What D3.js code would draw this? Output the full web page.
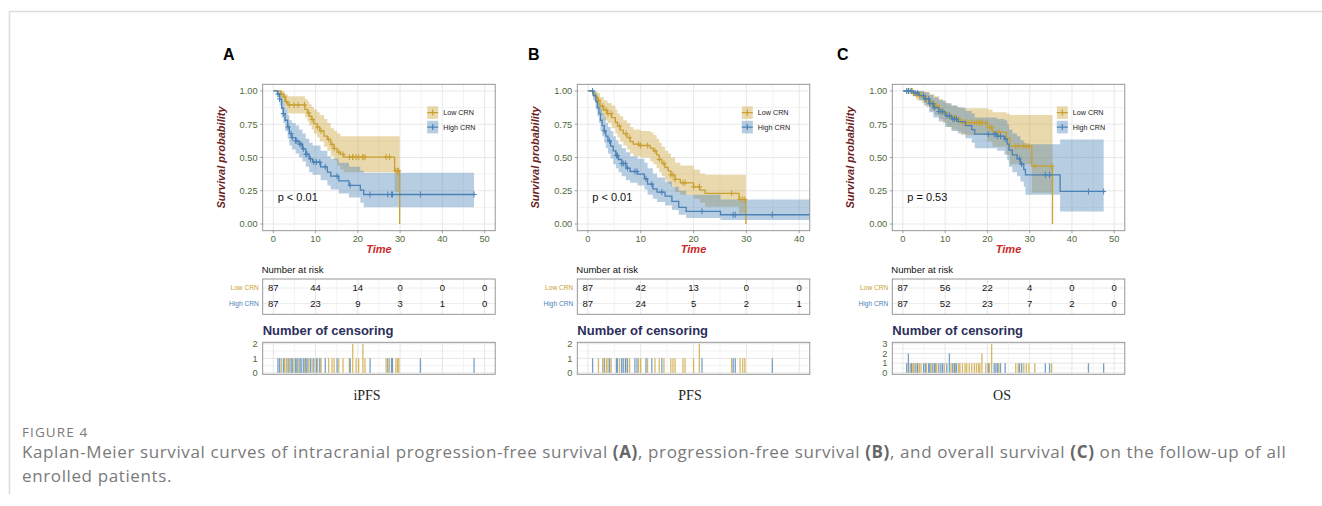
<!DOCTYPE html>
<html>
<head>
<meta charset="utf-8">
<script src="https://cdn.jsdelivr.net/npm/d3@7"></script>
<style>
body { margin: 0; background: #fff; }
svg { display: block; }
</style>
</head>
<body>
<svg id="fig" width="1322" height="506"></svg>
<script>
// values (Kaplan-Meier, CRN groups)
var groups = ["Low CRN", "High CRN"];
var panelLetters = ["A", "B", "C"];
var panelTitles = ["iPFS", "PFS", "OS"];
var pLabels = ["p < 0.01", "p < 0.01", "p = 0.53"];
var yTicks = [0, 0.25, 0.5, 0.75, 1];
var xTicksAC = [0, 10, 20, 30, 40, 50];
var xTicksB = [0, 10, 20, 30, 40];

// steps: [time, survival, lower CI, upper CI]
var aLowSteps = [[0,1,1,1],[1.8,0.977,0.95,1],[2.35,0.954,0.91,0.995],[2.8,0.92,0.87,0.975],[3.45,0.895,0.83,0.96],
  [7.5,0.862,0.8,0.94],[8.1,0.835,0.77,0.92],[8.5,0.81,0.74,0.9],[9.1,0.786,0.71,0.88],[9.6,0.755,0.68,0.86],
  [10.4,0.729,0.65,0.84],[11,0.7,0.62,0.82],[12,0.66,0.58,0.79],[12.8,0.636,0.55,0.76],[13.6,0.598,0.51,0.72],
  [14.4,0.568,0.48,0.7],[15.1,0.54,0.44,0.68],[15.9,0.523,0.41,0.66],[16.7,0.503,0.39,0.66],[28.7,0.4,0.24,0.66],
  [29.9,0,null,null]];
var aLowCens = [1.9,2.7,3.1,3.8,4.9,5.9,7.4,8.4,9.2,10.5,11.3,13.1,13.9,14.4,15.5,16.5,18.0,18.8,18.8,19.6,20.2,
  21.2,21.2,21.7,26.7,27.5,29.0,29.4,29.7];
var aHighSteps = [[0,1,1,1],[1,0.977,0.95,1],[1.5,0.94,0.89,0.99],[2,0.87,0.8,0.94],[2.4,0.83,0.76,0.91],
  [2.8,0.78,0.7,0.87],[3.4,0.73,0.64,0.82],[3.8,0.68,0.59,0.78],[4.4,0.65,0.56,0.76],[5.3,0.625,0.53,0.74],
  [6.1,0.6,0.5,0.71],[6.9,0.565,0.47,0.68],[7.7,0.525,0.43,0.64],[8.5,0.49,0.39,0.61],[9.3,0.465,0.37,0.59],
  [11.2,0.43,0.33,0.55],[12.8,0.39,0.29,0.51],[13.6,0.36,0.26,0.49],[15.5,0.325,0.23,0.46],[17.9,0.29,0.2,0.43],
  [20.6,0.255,0.16,0.4],[21.4,0.222,0.127,0.385]];
var aHighCens = [1.1,1.5,2.4,3.5,4.2,4.5,5.3,5.6,6.3,6.6,7.1,7.7,8.0,8.8,9.6,10.2,11.0,12.3,15.1,18.2,22.9,
  27.1,28.0,28.2,34.8,47.5];
var aRisk = [[87,44,14,0,0,0],[87,23,9,3,1,0]];

var bLowSteps = [[0,1,1,1],[1,0.977,0.95,1],[1.4,0.955,0.91,1],[1.8,0.93,0.88,0.985],[2.3,0.885,0.82,0.955],
  [3,0.855,0.78,0.93],[3.7,0.83,0.76,0.91],[4.5,0.8,0.72,0.89],[5.2,0.765,0.68,0.86],[5.6,0.735,0.65,0.83],
  [6.1,0.705,0.62,0.81],[6.7,0.68,0.59,0.78],[7.4,0.65,0.56,0.76],[8,0.62,0.53,0.73],[8.6,0.6,0.51,0.71],
  [10,0.59,0.5,0.7],[11.8,0.57,0.47,0.69],[12.4,0.55,0.45,0.67],[13,0.52,0.42,0.64],[13.5,0.485,0.39,0.61],
  [14,0.455,0.36,0.58],[14.6,0.425,0.33,0.55],[15.2,0.4,0.3,0.53],[15.7,0.37,0.28,0.5],[16.5,0.335,0.24,0.46],
  [17.5,0.31,0.22,0.44],[20,0.28,0.19,0.41],[21.2,0.255,0.16,0.38],[22.2,0.23,0.13,0.37],[28.6,0.185,0.08,0.37],
  [29.9,0,null,null]];
var bLowCens = [2.0,2.8,3.5,3.8,4.4,6.0,7.2,7.9,9.6,10.0,11.3,12.7,13.5,14.4,15.7,16.1,16.5,18.0,18.4,20.0,
  21.1,21.1,27.2,28.8,29.3,29.7];
var bHighSteps = [[0,1,1,1],[1,0.965,0.93,1],[1.5,0.92,0.86,0.98],[1.8,0.875,0.81,0.95],[2.1,0.83,0.76,0.91],
  [2.4,0.78,0.7,0.87],[2.7,0.74,0.66,0.83],[3.1,0.7,0.61,0.8],[3.4,0.66,0.57,0.76],[3.8,0.625,0.53,0.73],
  [4.3,0.585,0.49,0.7],[4.8,0.55,0.45,0.66],[5.3,0.515,0.42,0.63],[5.8,0.485,0.39,0.6],[6.4,0.455,0.36,0.57],
  [7.2,0.42,0.33,0.54],[8,0.395,0.31,0.51],[9.4,0.375,0.29,0.49],[10.7,0.34,0.26,0.46],[11.3,0.3,0.22,0.42],
  [12.3,0.265,0.19,0.38],[13.1,0.24,0.165,0.35],[14.6,0.21,0.14,0.32],[15.9,0.17,0.105,0.28],
  [17.2,0.125,0.07,0.25],[18.6,0.095,0.045,0.22],[25.1,0.07,0.03,0.185]];
var bHighCens = [0.9,3.1,4.1,5.4,5.6,6.4,6.7,7.1,7.5,8.9,9.3,11.0,12.1,14.0,21.6,27.5,27.9,34.9,47.0];
var bRisk = [[87,42,13,0,0],[87,24,5,2,1]];

var cLowSteps = [[0,1,1,1],[2.3,0.985,0.96,1],[3.3,0.97,0.93,1],[4.5,0.953,0.91,0.995],[5.5,0.935,0.88,0.99],
  [6.5,0.91,0.85,0.975],[7.5,0.887,0.82,0.96],[8.6,0.862,0.79,0.94],[9.5,0.837,0.76,0.92],[10.4,0.81,0.73,0.9],
  [11.5,0.798,0.71,0.89],[12.7,0.785,0.7,0.88],[13.8,0.762,0.67,0.87],[20,0.725,0.62,0.86],[21.2,0.69,0.58,0.84],
  [24.5,0.645,0.52,0.83],[25.3,0.585,0.45,0.82],[30.5,0.435,0.235,0.82],[35.4,0,null,null]];
var cLowCens = [1.7,2.2,2.5,3.3,3.9,4.3,5.6,6.7,7.7,8.0,9.8,11.4,12.4,13.2,13.5,14.1,14.7,15.1,15.7,16.3,16.9,
  17.4,17.9,18.2,18.7,18.7,19.6,20.5,21.0,21.0,21.0,22.7,26.7,27.3,28.6,29.2,29.8,31.2,35.2];
var cHighSteps = [[0,1,1,1],[2.5,0.985,0.96,1],[3.8,0.965,0.93,1],[5,0.94,0.89,0.99],[6.2,0.905,0.84,0.97],
  [7.2,0.875,0.8,0.95],[8.5,0.845,0.77,0.93],[10,0.815,0.73,0.91],[11.5,0.79,0.7,0.89],[13,0.77,0.68,0.875],
  [14.8,0.74,0.645,0.85],[16.3,0.71,0.61,0.83],[17,0.675,0.57,0.8],[22.3,0.66,0.55,0.79],[24,0.64,0.52,0.78],
  [24.7,0.6,0.48,0.75],[25.1,0.555,0.43,0.71],[25.9,0.52,0.39,0.68],[27,0.49,0.36,0.66],[27.8,0.45,0.32,0.63],
  [28.6,0.41,0.28,0.61],[29,0.37,0.22,0.6],[37.2,0.245,0.095,0.635]];
var cHighCens = [0.9,1.3,1.3,2.0,2.9,3.5,4.9,5.3,6.1,6.4,7.1,7.5,8.5,9.0,9.4,10.4,11.0,11.0,11.8,12.2,12.7,
  20.2,21.6,22.0,22.4,23.1,24.2,27.6,28.1,33.7,34.7,43.9,47.5];
var cRisk = [[87,56,22,4,0,0],[87,52,23,7,2,0]];

// ---- layout / style ----
var colors = ["#c9a031", "#4a82b6"];
var green = "#4f6a3b";
var sans = "'Liberation Sans', Arial, sans-serif";

var panels = [
  {left: 262.7, letterX: 223, titleX: 367, domain: [-2.5, 52.5], ticks: xTicksAC, censMax: 2,
   steps: [aLowSteps, aHighSteps], cens: [aLowCens, aHighCens], risk: aRisk},
  {left: 577.3, letterX: 528, titleX: 690, domain: [-2, 42], ticks: xTicksB, censMax: 2,
   steps: [bLowSteps, bHighSteps], cens: [bLowCens, bHighCens], risk: bRisk},
  {left: 892.3, letterX: 837, titleX: 1002, domain: [-2.5, 52.5], ticks: xTicksAC, censMax: 3,
   steps: [cLowSteps, cHighSteps], cens: [cLowCens, cHighCens], risk: cRisk}
];
var plotW = 232.5, plotTop = 84.3, plotBot = 230.7;
var riskTop = 279, riskBot = 314.3;
var censTop = 342.3, censBot = 374.3;

var svg = d3.select("#fig");
svg.append("rect").attr("width", 1322).attr("height", 506).attr("fill", "#fff");
// frame of the journal figure box
svg.append("line").attr("x1", 9).attr("x2", 1322).attr("y1", 11.5).attr("y2", 11.5)
  .attr("stroke", "#dcdcdc").attr("stroke-width", 1.5);
svg.append("line").attr("x1", 9.5).attr("x2", 9.5).attr("y1", 11).attr("y2", 494)
  .attr("stroke", "#dcdcdc").attr("stroke-width", 1.5);

var defs = svg.append("defs");

function stepAt(steps, t) {
  var i = d3.bisector(function(d) { return d[0]; }).right(steps, t) - 1;
  return steps[Math.max(0, i)][1];
}

panels.forEach(function(p, pi) {
  var L = p.left;
  var x = d3.scaleLinear().domain(p.domain).range([L, L + plotW]);
  var y = d3.scaleLinear().domain([-0.05, 1.05]).range([plotBot, plotTop]);
  var minor = d3.range(0, p.ticks[p.ticks.length - 1] + 10, 5)
    .filter(function(v) { return x(v) <= L + plotW; });

  var g = svg.append("g");
  g.append("text").attr("x", p.letterX).attr("y", 60).text(panelLetters[pi])
    .attr("font-family", sans).attr("font-weight", "bold").attr("font-size", 16);

  // ---------- survival plot ----------
  g.append("rect").attr("x", L).attr("y", plotTop).attr("width", plotW).attr("height", plotBot - plotTop)
    .attr("fill", "#fff");
  var yMinor = d3.range(0, 1.001, 0.125);
  g.selectAll(".gy").data(yMinor).enter().append("line")
    .attr("x1", L).attr("x2", L + plotW).attr("y1", function(d) { return y(d); }).attr("y2", function(d) { return y(d); })
    .attr("stroke", function(d, i) { return i % 2 ? "#f0f0f0" : "#e3e3e3"; }).attr("stroke-width", 0.8);
  g.selectAll(".gx").data(minor).enter().append("line")
    .attr("y1", plotTop).attr("y2", plotBot).attr("x1", function(d) { return x(d); }).attr("x2", function(d) { return x(d); })
    .attr("stroke", function(d) { return d % 10 ? "#f0f0f0" : "#e3e3e3"; }).attr("stroke-width", 0.8);

  var clipId = "clip" + pi;
  defs.append("clipPath").attr("id", clipId).append("rect")
    .attr("x", L).attr("y", plotTop).attr("width", plotW).attr("height", plotBot - plotTop);
  var pg = g.append("g").attr("clip-path", "url(#" + clipId + ")");

  var curves = p.steps.map(function(steps, gi) {
    var last = steps[steps.length - 1];
    var end = Math.max(last[0], d3.max(p.cens[gi]));
    var pts = steps.slice();
    if (last[1] > 0 && end > last[0]) pts.push([end, last[1], last[2], last[3]]);
    var band = pts.filter(function(d) { return d[2] != null; });
    if (last[2] == null) {
      var prev = steps[steps.length - 2];
      band.push([last[0], prev[1], prev[2], prev[3]]);
    }
    return {pts: pts, band: band, gi: gi};
  });

  var area = d3.area().curve(d3.curveStepAfter)
    .x(function(d) { return x(d[0]); }).y0(function(d) { return y(d[2]); }).y1(function(d) { return y(d[3]); });
  var line = d3.line().curve(d3.curveStepAfter)
    .x(function(d) { return x(d[0]); }).y(function(d) { return y(d[1]); });

  curves.forEach(function(c) {
    pg.append("path").attr("d", area(c.band)).attr("fill", colors[c.gi]).attr("fill-opacity", 0.4);
  });
  curves.forEach(function(c) {
    pg.append("path").attr("d", line(c.pts)).attr("fill", "none").attr("stroke", colors[c.gi]).attr("stroke-width", 1.3);
    p.cens[c.gi].forEach(function(t) {
      var cx = x(t), cy = y(stepAt(p.steps[c.gi], t));
      pg.append("path").attr("d", "M" + (cx - 2.5) + "," + cy + "h5M" + cx + "," + (cy - 3) + "v6")
        .attr("stroke", colors[c.gi]).attr("stroke-width", 1);
    });
  });

  g.append("rect").attr("x", L).attr("y", plotTop).attr("width", plotW).attr("height", plotBot - plotTop)
    .attr("fill", "none").attr("stroke", "#8c8c8c").attr("stroke-width", 0.9);

  // axes
  g.selectAll(".yt").data(yTicks).enter().append("text")
    .attr("x", L - 5).attr("y", function(d) { return y(d) + 3.3; }).attr("text-anchor", "end")
    .attr("font-family", sans).attr("font-size", 9.3).attr("fill", green).text(d3.format(".2f"));
  g.selectAll(".ytm").data(yTicks).enter().append("line")
    .attr("x1", L - 2.5).attr("x2", L).attr("y1", function(d) { return y(d); }).attr("y2", function(d) { return y(d); })
    .attr("stroke", "#8c8c8c").attr("stroke-width", 0.8);
  g.selectAll(".xt").data(p.ticks).enter().append("text")
    .attr("x", function(d) { return x(d); }).attr("y", 242).attr("text-anchor", "middle")
    .attr("font-family", sans).attr("font-size", 9.3).attr("fill", green).text(function(d) { return d; });
  g.selectAll(".xtm").data(p.ticks).enter().append("line")
    .attr("x1", function(d) { return x(d); }).attr("x2", function(d) { return x(d); })
    .attr("y1", plotBot).attr("y2", plotBot + 2.5).attr("stroke", "#8c8c8c").attr("stroke-width", 0.8);

  g.append("text").attr("transform", "translate(" + (L - 38) + "," + ((plotTop + plotBot) / 2) + ") rotate(-90)")
    .attr("text-anchor", "middle").attr("font-family", sans).attr("font-size", 11)
    .attr("font-weight", "bold").attr("font-style", "italic").attr("fill", "#6b1f25").text("Survival probability");
  g.append("text").attr("x", L + plotW / 2).attr("y", 253).attr("text-anchor", "middle")
    .attr("font-family", sans).attr("font-size", 11).attr("font-weight", "bold").attr("font-style", "italic")
    .attr("fill", "#cc2929").text("Time");

  g.append("text").attr("x", L + 15).attr("y", 201).attr("font-family", sans).attr("font-size", 11)
    .attr("fill", "#111").text(pLabels[pi]);

  // legend
  groups.forEach(function(name, gi) {
    var ly = 112.6 + gi * 14.5, lx = L + 164.5;
    g.append("rect").attr("x", lx).attr("y", ly - 6.3).attr("width", 11).attr("height", 12.6)
      .attr("fill", colors[gi]).attr("fill-opacity", 0.4);
    g.append("path").attr("d", "M" + lx + "," + ly + "h11M" + (lx + 5.5) + "," + (ly - 3) + "v6")
      .attr("stroke", colors[gi]).attr("stroke-width", 1.2);
    g.append("text").attr("x", lx + 16).attr("y", ly + 2.5).attr("font-family", sans).attr("font-size", 7.2)
      .attr("fill", "#222").text(name);
  });

  // ---------- number at risk ----------
  g.append("text").attr("x", L - 1).attr("y", 273).attr("font-family", sans).attr("font-size", 9.5)
    .attr("fill", "#111").text("Number at risk");
  g.selectAll(".rg").data(minor).enter().append("line")
    .attr("x1", function(d) { return x(d); }).attr("x2", function(d) { return x(d); })
    .attr("y1", riskTop).attr("y2", riskBot).attr("stroke", function(d) { return d % 10 ? "#f3f3f3" : "#e6e6e6"; });
  var rowY = [288, 303.5];
  rowY.forEach(function(ry) {
    g.append("line").attr("x1", L).attr("x2", L + plotW).attr("y1", ry).attr("y2", ry).attr("stroke", "#ececec");
  });
  g.append("rect").attr("x", L).attr("y", riskTop).attr("width", plotW).attr("height", riskBot - riskTop)
    .attr("fill", "none").attr("stroke", "#8c8c8c").attr("stroke-width", 0.9);
  p.risk.forEach(function(row, gi) {
    g.append("text").attr("x", L - 4).attr("y", rowY[gi] + 2.3).attr("text-anchor", "end")
      .attr("font-family", sans).attr("font-size", 6.6).attr("fill", colors[gi]).text(groups[gi]);
    g.selectAll(".rv" + gi).data(row).enter().append("text")
      .attr("x", function(d, i) { return x(p.ticks[i]); }).attr("y", rowY[gi] + 3.4).attr("text-anchor", "middle")
      .attr("font-family", sans).attr("font-size", 9.5).attr("fill", "#111").text(function(d) { return d; });
  });

  // ---------- number of censoring ----------
  g.append("text").attr("x", L).attr("y", 335).attr("font-family", sans).attr("font-size", 13)
    .attr("font-weight", "bold").attr("fill", "#2c2f5a").text("Number of censoring");
  var yc = d3.scaleLinear().domain([-0.05 * p.censMax, 1.05 * p.censMax]).range([censBot, censTop]);
  var cTicks = d3.range(0, p.censMax + 1);
  g.selectAll(".cgy").data(d3.range(0, p.censMax + 0.01, 0.5)).enter().append("line")
    .attr("x1", L).attr("x2", L + plotW).attr("y1", function(d) { return yc(d); }).attr("y2", function(d) { return yc(d); })
    .attr("stroke", function(d) { return d % 1 ? "#f3f3f3" : "#e6e6e6"; });
  g.selectAll(".cgx").data(minor).enter().append("line")
    .attr("x1", function(d) { return x(d); }).attr("x2", function(d) { return x(d); })
    .attr("y1", censTop).attr("y2", censBot).attr("stroke", function(d) { return d % 10 ? "#f3f3f3" : "#e6e6e6"; });
  var cg = g.append("g").attr("clip-path", "url(#" + clipId + "c)");
  defs.append("clipPath").attr("id", clipId + "c").append("rect")
    .attr("x", L).attr("y", censTop).attr("width", plotW).attr("height", censBot - censTop);
  p.cens.forEach(function(times, gi) {
    var counts = d3.rollups(times, function(v) { return v.length; }, function(t) { return t; });
    cg.selectAll(".cb" + gi).data(counts).enter().append("line")
      .attr("x1", function(d) { return x(d[0]); }).attr("x2", function(d) { return x(d[0]); })
      .attr("y1", yc(0)).attr("y2", function(d) { return yc(d[1]); })
      .attr("stroke", colors[gi]).attr("stroke-opacity", 0.75).attr("stroke-width", 1.3);
  });
  g.append("rect").attr("x", L).attr("y", censTop).attr("width", plotW).attr("height", censBot - censTop)
    .attr("fill", "none").attr("stroke", "#8c8c8c").attr("stroke-width", 0.9);
  g.selectAll(".cyt").data(cTicks).enter().append("text")
    .attr("x", L - 5).attr("y", function(d) { return yc(d) + 3.3; }).attr("text-anchor", "end")
    .attr("font-family", sans).attr("font-size", 9.3).attr("fill", green).text(function(d) { return d; });

  g.append("text").attr("x", p.titleX).attr("y", 400).attr("text-anchor", "middle")
    .attr("font-family", "'Liberation Serif', 'DejaVu Serif', serif").attr("font-size", 14)
    .attr("fill", "#222").text(panelTitles[pi]);
});

// caption
var cap = svg.append("g").attr("font-family", "'Open Sans', 'Noto Sans', sans-serif").attr("fill", "#7a7a7a");
cap.append("text").attr("x", 22).attr("y", 437).attr("font-size", 13.5).attr("letter-spacing", 1.1).text("FIGURE 4");
var line1 = cap.append("text").attr("x", 22).attr("y", 458).attr("font-size", 17).attr("letter-spacing", 0.62);
[["Kaplan-Meier survival curves of intracranial progression-free survival ", 0], ["(A)", 1],
 [", progression-free survival ", 0], ["(B)", 1], [", and overall survival ", 0], ["(C)", 1],
 [" on the follow-up of all", 0]].forEach(function(s) {
  line1.append("tspan").attr("font-weight", s[1] ? "bold" : null).attr("fill", s[1] ? "#666" : null).text(s[0]);
});
cap.append("text").attr("x", 22).attr("y", 482).attr("font-size", 17).attr("letter-spacing", 0.62).text("enrolled patients.");
</script>
</body>
</html>
